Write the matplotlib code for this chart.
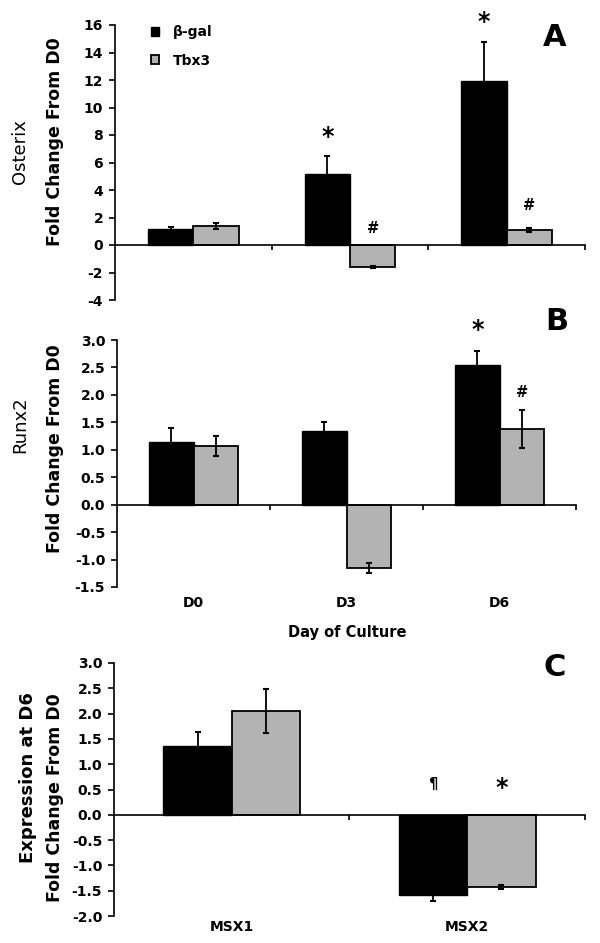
import numpy as np
import matplotlib
matplotlib.use("Agg")
import matplotlib.pyplot as plt
from matplotlib.patches import Patch
import matplotlib.transforms as mtransforms

plt.rcParams['font.family'] = ['DejaVu Sans']
plt.rcParams['axes.unicode_minus'] = False

# ---------------- data ----------------
series_names = ["β-gal", "Tbx3"]

days = ["D0", "D3", "D6"]
osx_bgal = [1.13, 5.15, 11.95]
osx_bgal_err = [0.2, 1.3, 2.8]
osx_tbx3 = [1.38, -1.62, 1.11]
osx_tbx3_err = [0.2, 0.08, 0.15]
osx_marks = [(1, 0, "*", 7.85), (1, 1, "#", 1.2), (2, 0, "*", 16.25), (2, 1, "#", 2.9)]

runx_bgal = [1.15, 1.34, 2.54]
runx_bgal_err = [0.25, 0.16, 0.26]
runx_tbx3 = [1.07, -1.15, 1.38]
runx_tbx3_err = [0.19, 0.09, 0.34]
runx_marks = [(2, 0, "*", 3.18), (2, 1, "#", 2.05)]

genes = ["MSX1", "MSX2"]
msx_bgal = [1.36, -1.58]
msx_bgal_err = [0.28, 0.12]
msx_tbx3 = [2.05, -1.42]
msx_tbx3_err = [0.43, 0.04]
msx_marks = [(1, 0, "¶", 0.6), (1, 1, "*", 0.53)]

osx_ticks = [-4, -2, 0, 2, 4, 6, 8, 10, 12, 14, 16]
runx_ticks = [-1.5, -1.0, -0.5, 0.0, 0.5, 1.0, 1.5, 2.0, 2.5, 3.0]
msx_ticks = [-2.0, -1.5, -1.0, -0.5, 0.0, 0.5, 1.0, 1.5, 2.0, 2.5, 3.0]

# ---------------- figure ----------------
W, H = 600, 943
fig = plt.figure(figsize=(W / 100, H / 100), dpi=100)

def fx(px):
    return px / W

def fy(py):
    return 1 - py / H

GRAY = "#b3b3b3"
BW = 0.29


def panel(rect, cats, bg, bge, tb, tbe, ticks, fmt, marks, cat_y=None):
    ax = fig.add_axes(rect)
    x = np.arange(len(cats))
    ax.bar(x - BW / 2, bg, BW, color="black", edgecolor="black", lw=1.0, zorder=2)
    ax.bar(x + BW / 2, tb, BW, color=GRAY, edgecolor="black", lw=1.3, zorder=2)
    ax.errorbar(x - BW / 2, bg, yerr=bge, fmt="none", ecolor="black",
                elinewidth=1.3, capsize=2.5, capthick=1.5, zorder=3)
    ax.errorbar(x + BW / 2, tb, yerr=tbe, fmt="none", ecolor="black",
                elinewidth=1.3, capsize=2.5, capthick=1.5, zorder=3)
    ax.set_xlim(-0.5, len(cats) - 0.5)
    ax.set_ylim(ticks[0], ticks[-1])
    ax.set_yticks(ticks)
    ax.set_yticklabels([fmt.format(t) for t in ticks], fontsize=10, fontweight="bold")
    ax.set_xticks(np.arange(len(cats)) + 0.5)
    ax.set_xticklabels([])
    for s in ("top", "right"):
        ax.spines[s].set_visible(False)
    ax.spines["bottom"].set_position(("data", 0))
    ax.spines["bottom"].set_linewidth(1.2)
    ax.spines["left"].set_linewidth(1.2)
    ax.tick_params(axis="y", direction="out", length=4.5, width=1.2, pad=4)
    ax.tick_params(axis="x", direction="out", length=3.5, width=1.2)
    ax.patch.set_alpha(0)
    for (ci, si, sym, yv) in marks:
        xpos = ci + (-BW / 2 if si == 0 else BW / 2)
        size = 17 if sym == "*" else 10.5
        ax.text(xpos, yv, sym, ha="center", va="center", fontsize=size,
                fontweight="bold", clip_on=False)
    if cat_y is not None:
        trans = mtransforms.blended_transform_factory(ax.transData, ax.transAxes)
        for i, c in enumerate(cats):
            ax.text(i, cat_y, c, transform=trans, ha="center", va="center",
                    fontsize=10, fontweight="bold")
    return ax

# Panel A
axA = panel([fx(115), fy(300), fx(585) - fx(115), fy(25) - fy(300)], days,
            osx_bgal, osx_bgal_err, osx_tbx3, osx_tbx3_err, osx_ticks, "{:d}", osx_marks)
handles = [Patch(facecolor="black", edgecolor="black"),
           Patch(facecolor=GRAY, edgecolor="black", lw=1.3)]
axA.legend(handles, series_names, loc="upper left", bbox_to_anchor=(fx(151), fy(25)),
           bbox_transform=fig.transFigure, frameon=False,
           prop={"size": 10, "weight": "bold"},
           handlelength=0.6, handleheight=0.6, labelspacing=1.05,
           handletextpad=1.0, borderpad=0, borderaxespad=0)

# Panel B
axB = panel([fx(117), fy(587), fx(576) - fx(117), fy(340) - fy(587)], days,
            runx_bgal, runx_bgal_err, runx_tbx3, runx_tbx3_err, runx_ticks, "{:.1f}",
            runx_marks, cat_y=-0.065)

# Panel C
axC = panel([fx(114), fy(916), fx(585) - fx(114), fy(663) - fy(916)], genes,
            msx_bgal, msx_bgal_err, msx_tbx3, msx_tbx3_err, msx_ticks, "{:.1f}",
            msx_marks, cat_y=-0.045)

# axis titles
fig.text(fx(20), fy(152), "Osterix", rotation=90, ha="center", va="center", fontsize=13)
fig.text(fx(55), fy(142), "Fold Change From D0", rotation=90, ha="center", va="center",
         fontsize=12.5, fontweight="bold")
fig.text(fx(20), fy(425), "Runx2", rotation=90, ha="center", va="center", fontsize=13)
fig.text(fx(55), fy(449), "Fold Change From D0", rotation=90, ha="center", va="center",
         fontsize=12.5, fontweight="bold")
fig.text(fx(28), fy(778), "Expression at D6", rotation=90, ha="center", va="center",
         fontsize=13, fontweight="bold")
fig.text(fx(55), fy(798), "Fold Change From D0", rotation=90, ha="center", va="center",
         fontsize=12.5, fontweight="bold")
fig.text(fx(347), fy(632), "Day of Culture", ha="center", va="center", fontsize=10.5,
         fontweight="bold")

# panel letters
fig.text(fx(555), fy(37), "A", ha="center", va="center", fontsize=22, fontweight="bold")
fig.text(fx(557), fy(321), "B", ha="center", va="center", fontsize=22, fontweight="bold")
fig.text(fx(555), fy(668), "C", ha="center", va="center", fontsize=22, fontweight="bold")

fig.savefig("out.png", dpi=100)
